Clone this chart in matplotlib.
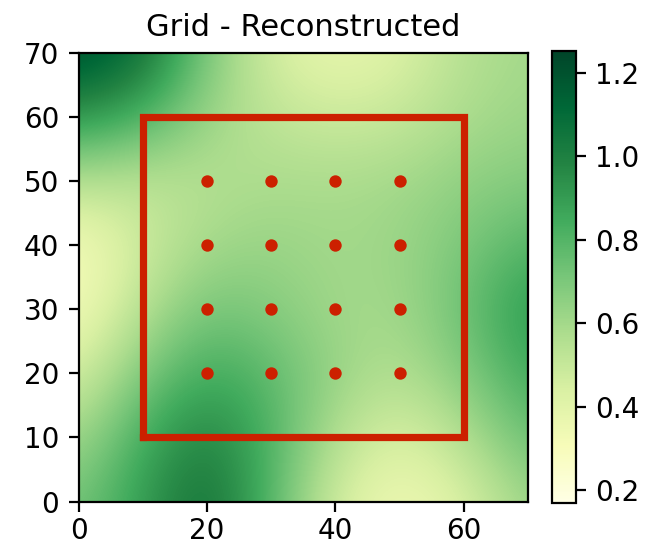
import numpy as np
import matplotlib
matplotlib.use("Agg")
import matplotlib.pyplot as plt

# reconstructed field sampled at x, y = 0, 10, ..., 70 (rows from y=0 upward)
grid_x = [0, 10, 20, 30, 40, 50, 60, 70]
grid_y = [0, 10, 20, 30, 40, 50, 60, 70]
field = [
    [0.72, 0.90, 1.08, 0.80, 0.45, 0.33, 0.42, 0.62],   # y=0
    [0.60, 0.85, 1.00, 0.82, 0.55, 0.42, 0.55, 0.75],   # y=10
    [0.45, 0.70, 0.86, 0.78, 0.63, 0.55, 0.68, 0.85],   # y=20
    [0.32, 0.55, 0.72, 0.68, 0.60, 0.60, 0.74, 0.92],   # y=30
    [0.30, 0.48, 0.60, 0.63, 0.60, 0.62, 0.70, 0.80],   # y=40
    [0.55, 0.52, 0.55, 0.58, 0.58, 0.60, 0.65, 0.68],   # y=50
    [0.92, 0.82, 0.62, 0.52, 0.48, 0.50, 0.58, 0.62],   # y=60
    [1.23, 1.08, 0.70, 0.45, 0.37, 0.42, 0.55, 0.60],   # y=70
]

# rectangle corners and sample points
rect_x = [10, 60, 60, 10, 10]
rect_y = [10, 10, 60, 60, 10]
pts = [20, 30, 40, 50]

fig = plt.figure(figsize=(3.23, 2.73), dpi=200)
ax = fig.add_axes([0.122, 0.0806, 0.695, 0.824])
cax = fig.add_axes([0.854, 0.0788, 0.037, 0.828])

img = ax.imshow(np.array(field), origin="lower", cmap="YlGn",
                extent=[-5, 75, -5, 75], interpolation="bicubic",
                vmin=0.169, vmax=1.253)
ax.set_xlim(0, 70)
ax.set_ylim(0, 70)
ax.set_xticks([0, 20, 40, 60])
ax.set_yticks(range(0, 71, 10))
ax.tick_params(axis="x", pad=2)
ax.set_title("Grid - Reconstructed", fontsize=11)

ax.plot(rect_x, rect_y, color="#cc2000", lw=2.6, solid_joinstyle="miter")
px, py = np.meshgrid(pts, pts)
ax.scatter(px.ravel(), py.ravel(), s=12, color="#cc2000", zorder=3)

cb = fig.colorbar(img, cax=cax)
cb.set_ticks([0.2, 0.4, 0.6, 0.8, 1.0, 1.2])

fig.savefig("out.png", dpi=200)
